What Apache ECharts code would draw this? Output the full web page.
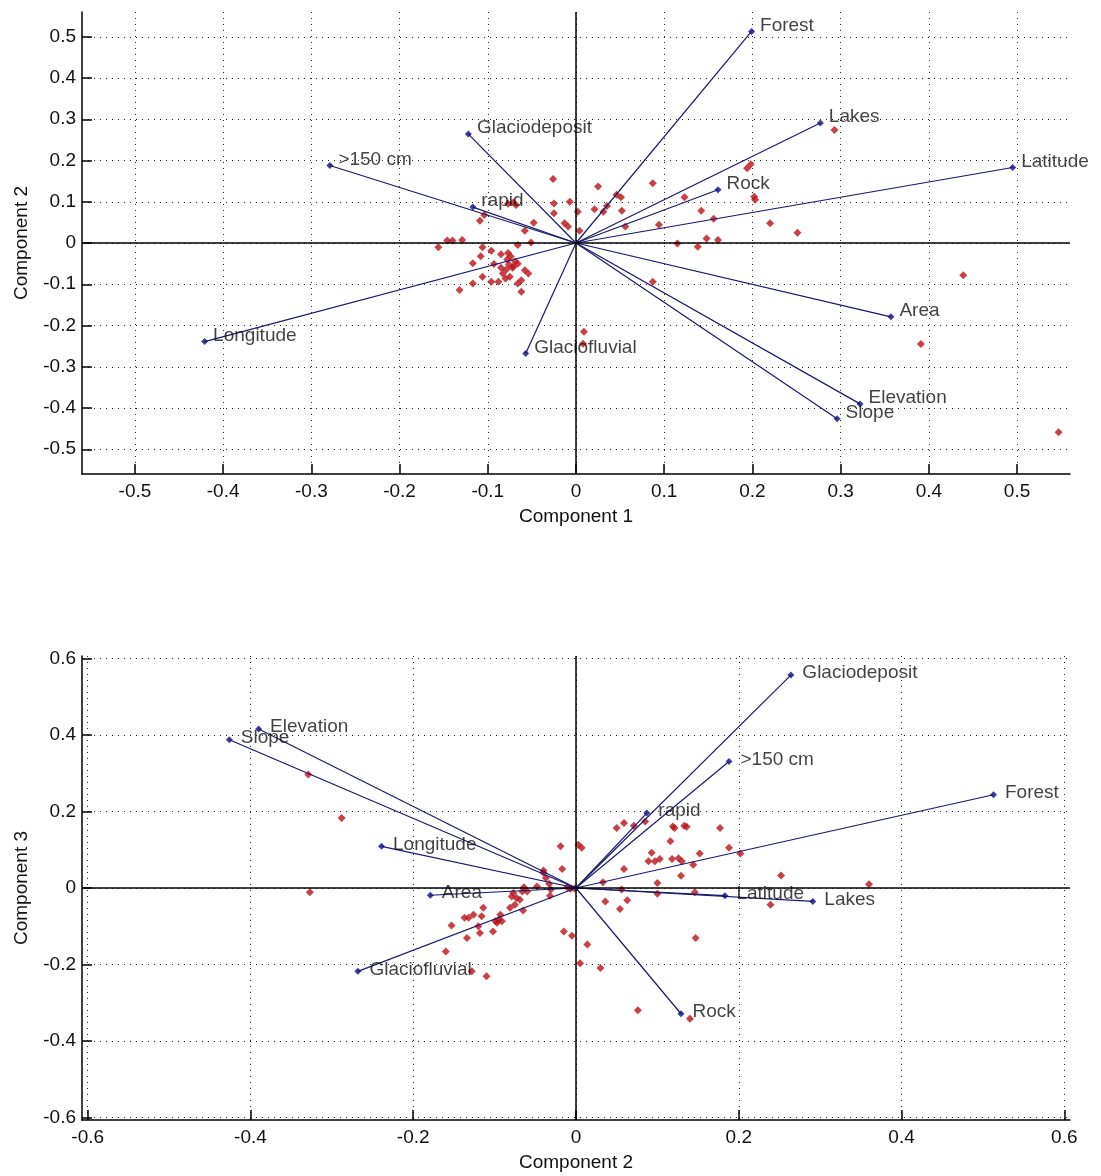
<!DOCTYPE html>
<html>
<head>
<meta charset="utf-8">
<title>PCA biplots</title>
<script src="https://cdn.jsdelivr.net/npm/echarts@6/dist/echarts.min.js"></script>
<style>
  html, body { margin: 0; padding: 0; background: #fff; }
  #chart { width: 1101px; height: 1176px; }
</style>
</head>
<body>
<div id="chart"></div>
<script>
// Variable loadings on the first three principal components
const varNames = ['Area', 'Elevation', 'Slope', 'Latitude', 'Longitude', 'Forest',
  'Lakes', 'Rock', 'Glaciodeposit', 'Glaciofluvial', 'rapid', '>150 cm'];
const loadPC1 = [0.357, 0.322, 0.296, 0.495, -0.421, 0.199, 0.277, 0.161, -0.122, -0.057, -0.117, -0.279];
const loadPC2 = [-0.179, -0.390, -0.426, 0.183, -0.239, 0.513, 0.291, 0.129, 0.264, -0.268, 0.087, 0.188];
const loadPC3 = [-0.019, 0.416, 0.388, -0.020, 0.109, 0.244, -0.035, -0.329, 0.557, -0.218, 0.196, 0.331];

// Scaled observation scores, Component 1 vs Component 2
const scoresPC1PC2 = [
  [-0.026, 0.155], [-0.025, 0.096], [-0.007, 0.100], [-0.025, 0.072], [0.002, 0.076],
  [-0.013, 0.048], [-0.009, 0.040], [0.004, 0.030], [-0.048, 0.049], [-0.058, 0.030],
  [-0.077, 0.095], [-0.071, 0.098], [-0.068, 0.092], [-0.104, 0.068], [-0.109, 0.054],
  [-0.146, 0.006], [-0.140, 0.006], [-0.129, 0.007], [-0.156, -0.010], [-0.066, -0.005],
  [-0.051, 0.001], [-0.106, -0.010], [-0.096, -0.019], [-0.108, -0.032], [-0.085, -0.027],
  [-0.077, -0.024], [-0.074, -0.033], [-0.117, -0.049], [-0.093, -0.051], [-0.078, -0.040],
  [-0.076, -0.052], [-0.071, -0.057], [-0.066, -0.050], [-0.058, -0.066], [-0.054, -0.074],
  [-0.083, -0.074], [-0.080, -0.086], [-0.075, -0.082], [-0.106, -0.082], [-0.096, -0.094],
  [-0.088, -0.094], [-0.117, -0.098], [-0.062, -0.090], [-0.066, -0.098], [-0.132, -0.114],
  [-0.062, -0.118], [-0.072, -0.060], [-0.079, -0.064], [-0.069, -0.045], [-0.085, -0.060],
  [0.025, 0.137], [0.087, 0.145], [0.046, 0.117], [0.051, 0.111], [0.021, 0.082],
  [0.031, 0.076], [0.035, 0.090], [0.052, 0.078], [0.056, 0.040], [0.094, 0.044],
  [0.123, 0.111], [0.142, 0.078], [0.156, 0.059], [0.115, -0.001], [0.138, -0.009],
  [0.148, 0.011], [0.161, 0.007], [0.194, 0.181], [0.198, 0.191], [0.202, 0.112],
  [0.203, 0.105], [0.220, 0.048], [0.251, 0.025], [0.293, 0.274], [0.087, -0.094],
  [0.009, -0.215], [0.008, -0.244], [0.439, -0.078], [0.391, -0.245], [0.547, -0.459]
];

// Scaled observation scores, Component 2 vs Component 3
const scoresPC2PC3 = [
  [-0.019, 0.109], [-0.017, 0.050], [-0.040, 0.046], [-0.040, 0.040], [-0.037, 0.026],
  [-0.033, 0.011], [-0.031, -0.004], [-0.032, -0.020], [-0.048, 0.004], [-0.064, 0.002],
  [-0.066, -0.009], [-0.060, -0.009], [-0.077, -0.013], [-0.073, -0.026], [-0.079, -0.022],
  [-0.011, 0.002], [-0.007, -0.002], [-0.002, -0.001], [-0.069, -0.031], [-0.075, -0.044],
  [-0.081, -0.052], [-0.065, -0.059], [-0.114, -0.052], [-0.126, -0.070], [-0.132, -0.078],
  [-0.116, -0.074], [-0.137, -0.078], [-0.093, -0.070], [-0.095, -0.083], [-0.099, -0.087],
  [-0.097, -0.091], [-0.091, -0.087], [-0.102, -0.114], [-0.120, -0.100], [-0.118, -0.118],
  [-0.134, -0.131], [-0.153, -0.098], [-0.160, -0.166], [-0.015, -0.114], [-0.005, -0.125],
  [0.005, -0.197], [-0.128, -0.218], [-0.110, -0.231], [0.050, 0.157], [0.059, 0.170],
  [0.071, 0.163], [0.085, 0.174], [0.119, 0.161], [0.121, 0.157], [0.133, 0.163],
  [0.136, 0.160], [0.177, 0.157], [0.116, 0.122], [0.003, 0.113], [0.007, 0.105],
  [0.093, 0.092], [0.089, 0.070], [0.097, 0.070], [0.103, 0.076], [0.118, 0.076],
  [0.126, 0.078], [0.130, 0.070], [0.144, 0.061], [0.152, 0.090], [0.188, 0.105],
  [0.202, 0.090], [0.059, 0.050], [0.129, 0.032], [0.033, 0.015], [0.100, 0.013],
  [0.056, -0.004], [0.100, -0.015], [0.146, -0.011], [0.036, -0.035], [0.063, -0.032],
  [0.054, -0.055], [0.252, 0.033], [0.239, -0.044], [0.147, -0.131], [0.014, -0.148],
  [0.030, -0.209], [0.076, -0.320], [0.140, -0.342], [0.360, 0.010], [-0.329, 0.297],
  [-0.288, 0.183], [-0.327, -0.011]
];

// Tick positions
const ticksTop = [-0.5, -0.4, -0.3, -0.2, -0.1, 0, 0.1, 0.2, 0.3, 0.4, 0.5];
const ticksBottom = [-0.6, -0.4, -0.2, 0, 0.2, 0.4, 0.6];

const FONT = 'Liberation Sans, Arial, Helvetica, sans-serif';
const TEXT = '#111111';
const RED = '#bb1119';
const NAVY_LINE = '#18186c';
const NAVY_MARK = '#0c0c86';

function fmt(v) { return String(+(+v).toFixed(2)); }

function valueAxis(gridIndex, lim, ticks, name, isX) {
  return {
    type: 'value', gridIndex: gridIndex, min: -lim, max: lim,
    name: name, nameLocation: 'middle', nameGap: isX ? 33 : 51,
    nameTextStyle: { fontFamily: FONT, fontSize: 19, color: TEXT },
    axisLine: { onZero: false, lineStyle: { color: '#000', width: 1.5 } },
    axisTick: { inside: true, length: 10, customValues: ticks, lineStyle: { color: '#000', width: 1.5 } },
    axisLabel: { customValues: ticks, margin: isX ? 8 : 6, fontFamily: FONT, fontSize: 19, color: TEXT, formatter: fmt },
    splitLine: { show: true, lineStyle: { color: '#262626', width: 1, type: [1, 5] } }
  };
}

function biplotSeries(gridIndex, px, py, scores, labelDist, labelDy) {
  const series = [];
  // observation scores, plus the solid cross through the origin
  series.push({
    type: 'scatter', xAxisIndex: gridIndex, yAxisIndex: gridIndex,
    data: scores, symbol: 'diamond', symbolSize: 8,
    itemStyle: { color: RED }, z: 2, silent: true,
    markLine: {
      silent: true, symbol: ['none', 'none'], label: { show: false },
      lineStyle: { color: '#000', width: 1.5, type: 'solid' },
      data: [{ xAxis: 0 }, { yAxis: 0 }]
    }
  });
  // loading vectors from the origin
  varNames.forEach(function (n, i) {
    series.push({
      type: 'line', xAxisIndex: gridIndex, yAxisIndex: gridIndex,
      data: [[0, 0], [px[i], py[i]]], showSymbol: false, silent: true,
      lineStyle: { color: NAVY_LINE, width: 1.2 }, z: 3
    });
  });
  // vector tips with variable names, set slightly above the tip
  series.push({
    type: 'scatter', xAxisIndex: gridIndex, yAxisIndex: gridIndex,
    data: varNames.map(function (n, i) { return { name: n, value: [px[i], py[i]] }; }),
    symbol: 'diamond', symbolSize: 7, itemStyle: { color: NAVY_MARK }, z: 4, silent: true,
    label: {
      show: true, position: 'right', distance: labelDist,
      formatter: '{b}', fontFamily: FONT, fontSize: 19, color: TEXT
    },
    labelLayout: { hideOverlap: false, dy: labelDy }
  });
  return series;
}

const chart = echarts.init(document.getElementById('chart'), null, { renderer: 'canvas' });
chart.setOption({
  animation: false,
  backgroundColor: '#ffffff',
  grid: [
    { left: 82, top: 12, width: 988, height: 462 },
    { left: 82, top: 656, width: 988, height: 464 }
  ],
  xAxis: [
    valueAxis(0, 0.56, ticksTop, 'Component 1', true),
    valueAxis(1, 0.607, ticksBottom, 'Component 2', true)
  ],
  yAxis: [
    valueAxis(0, 0.56, ticksTop, 'Component 2', false),
    valueAxis(1, 0.607, ticksBottom, 'Component 3', false)
  ],
  series: [].concat(
    biplotSeries(0, loadPC1, loadPC2, scoresPC1PC2, 5, -6),
    biplotSeries(1, loadPC2, loadPC3, scoresPC2PC3, 8, -2)
  )
});
</script>
</body>
</html>
